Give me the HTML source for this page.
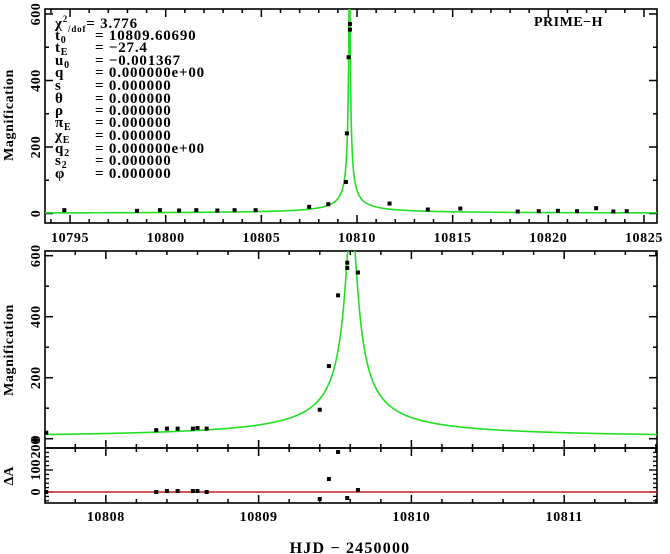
<!DOCTYPE html>
<html><head><meta charset="utf-8"><style>
html,body{margin:0;padding:0;background:#fff}
svg{display:block}
text{font-family:"Liberation Serif",serif;font-weight:bold;fill:#000}
</style></head><body>
<svg id="s" width="670" height="554" viewBox="0 0 670 554" xmlns="http://www.w3.org/2000/svg">
<defs>
<clipPath id="c1"><rect x="45" y="9" width="612" height="214"/></clipPath>
<clipPath id="c2"><rect x="45" y="251" width="612" height="197"/></clipPath>
<clipPath id="c3"><rect x="45" y="448" width="612" height="55"/></clipPath>
</defs>
<g id="g"></g>
<g font-size="15" letter-spacing="0.8">
<text x="55" y="28">χ<tspan font-size="9" dy="-6">2</tspan><tspan font-size="9" dy="10">/dof</tspan><tspan dy="-4">= 3.776</tspan></text>
<text x="55" y="40">t<tspan font-size="10" dy="3">0</tspan><tspan x="95" dy="-3">= 10809.60690</tspan></text>
<text x="55" y="52">t<tspan font-size="10" dy="3">E</tspan><tspan x="95" dy="-3">= −27.4</tspan></text>
<text x="55" y="65">u<tspan font-size="10" dy="3">0</tspan><tspan x="95" dy="-3">= −0.001367</tspan></text>
<text x="55" y="77">q<tspan x="95">= 0.000000e+00</tspan></text>
<text x="55" y="90">s<tspan x="95">= 0.000000</tspan></text>
<text x="55" y="103">θ<tspan x="95">= 0.000000</tspan></text>
<text x="55" y="115">ρ<tspan x="95">= 0.000000</tspan></text>
<text x="55" y="127">π<tspan font-size="10" dy="3">E</tspan><tspan x="95" dy="-3">= 0.000000</tspan></text>
<text x="55" y="140">χ<tspan font-size="10" dy="3">E</tspan><tspan x="95" dy="-3">= 0.000000</tspan></text>
<text x="55" y="153">q<tspan font-size="10" dy="3">2</tspan><tspan x="95" dy="-3">= 0.000000e+00</tspan></text>
<text x="55" y="165">s<tspan font-size="10" dy="3">2</tspan><tspan x="95" dy="-3">= 0.000000</tspan></text>
<text x="55" y="178">φ<tspan x="95">= 0.000000</tspan></text>
</g>
<text x="534" y="26" font-size="14" letter-spacing="0.5">PRIME−H</text>
<text x="350" y="553" font-size="16" letter-spacing="1.2" text-anchor="middle">HJD − 2450000</text>
<text transform="translate(13,115) rotate(-90)" font-size="14" letter-spacing="0.6" text-anchor="middle">Magnification</text>
<text transform="translate(13,350) rotate(-90)" font-size="14" letter-spacing="0.6" text-anchor="middle">Magnification</text>
<text transform="translate(13,476) rotate(-90)" font-size="14" text-anchor="middle">ΔA</text>
</svg>
<script>
var g=document.getElementById('g'),out='';
var t0=10809.6069,tE=27.4,u0=0.001367;
function A(t){var tau=(t-t0)/tE,u=Math.sqrt(u0*u0+tau*tau);return (u*u+2)/(u*Math.sqrt(u*u+4));}
function panel(P){
 var X=function(v){return P.x0+(v-P.d0)*P.sx;},Y=function(v){return P.y0-v*P.sy;};
 out+='<rect x="45" y="'+P.top+'" width="612" height="'+(P.bot-P.top)+'" fill="none" stroke="#000" stroke-width="1.6"/>';
 for(var d=Math.ceil(P.dmin/P.minor)*P.minor;d<=P.dmax+1e-9;d+=P.minor){
  var x=X(d);if(x<45||x>657)continue;
  var maj=Math.abs(d/P.major-Math.round(d/P.major))<1e-6,L=maj?8:4;
  out+='<line x1="'+x+'" y1="'+P.bot+'" x2="'+x+'" y2="'+(P.bot-L)+'" stroke="#000" stroke-width="1.5"/>';
  out+='<line x1="'+x+'" y1="'+P.top+'" x2="'+x+'" y2="'+(P.top+L)+'" stroke="#000" stroke-width="1.5"/>';
  if(maj&&P.lab)out+='<text x="'+x+'" y="'+P.laby+'" font-size="14" letter-spacing="0.6" text-anchor="middle">'+Math.round(d)+'</text>';
 }
 P.yt.forEach(function(v){var y=Y(v[0]);if(y<P.top-0.5||y>P.bot+0.5)return;var L=v[1]?8:4;
  out+='<line x1="45" y1="'+y+'" x2="'+(45+L)+'" y2="'+y+'" stroke="#000" stroke-width="1.5"/>';
  out+='<line x1="657" y1="'+y+'" x2="'+(657-L)+'" y2="'+y+'" stroke="#000" stroke-width="1.5"/>';
  if(v[2]!==undefined)out+='<text transform="translate(40,'+y+') rotate(-90)" font-size="14" letter-spacing="0.6" text-anchor="middle">'+v[2]+'</text>';
 });
 return [X,Y];
}
function yt(step,max,lab){var a=[];for(var v=0;v<=max;v+=step/2){var m=v%step==0;a.push(m?[v,1,lab?String(v):undefined]:[v,0]);}return a;}
var P1={x0:45,d0:10793.69,sx:19.13,y0:213.5,sy:66.5/200,top:9,bot:223,dmin:10793,dmax:10826,minor:1,major:5,lab:1,laby:242,yt:yt(200,600,1)};
var f=panel(P1),X=f[0],Y=f[1];
var p='';for(var x=45;x<=657;x+=0.25){var t=P1.d0+(x-45)/P1.sx;p+=(p?'L':'M')+x.toFixed(2)+','+Y(A(t)).toFixed(2);}
out+='<path d="'+p+'" fill="none" stroke="#22e022" stroke-width="1.6" clip-path="url(#c1)"/>';
var pts1=[[10794.7,10],[10798.5,8],[10799.7,10],[10800.7,9],[10801.6,10],[10802.7,9],[10803.6,10],[10804.7,10],[10807.5,20],[10808.5,28],[10809.42,95],[10809.47,241],[10809.56,470],[10809.63,553],[10809.63,570],[10811.7,30],[10813.7,12],[10815.4,15],[10818.4,6],[10819.5,7],[10820.5,8],[10821.5,7],[10822.5,16],[10823.4,6],[10824.1,7]];
pts1.forEach(function(q){out+='<rect x="'+(X(q[0])-2)+'" y="'+(Y(q[1])-2)+'" width="4" height="4" fill="#000"/>';});
var P2={x0:45,d0:10807.602,sx:152.8,y0:438.7,sy:61/200,top:251,bot:448,dmin:10807.4,dmax:10811.8,minor:0.2,major:1,lab:0,yt:yt(200,600,1)};
f=panel(P2);X=f[0];Y=f[1];
p='';for(var x=45;x<=657;x+=0.25){var t=P2.d0+(x-45)/P2.sx;p+=(p?'L':'M')+x.toFixed(2)+','+Math.max(Y(A(t)),200).toFixed(2);}
out+='<path d="'+p+'" fill="none" stroke="#22e022" stroke-width="1.6" clip-path="url(#c2)"/>';
var pts2=[[10807.61,20],[10808.33,28],[10808.40,33],[10808.47,33],[10808.57,33],[10808.60,35],[10808.66,33],[10809.40,95],[10809.46,238],[10809.52,470],[10809.58,560],[10809.58,577],[10809.65,545]];
pts2.forEach(function(q){out+='<rect x="'+(X(q[0])-2)+'" y="'+(Y(q[1])-2)+'" width="4" height="4" fill="#000"/>';});
var P3={x0:45,d0:10807.602,sx:152.8,y0:492,sy:44/200,top:448,bot:503,dmin:10807.4,dmax:10811.8,minor:0.2,major:1,lab:1,laby:521,yt:[]};
f=panel(P3);X=f[0];
for(var v=-40;v<=200;v+=20){var y=492-v*0.22;if(y<448||y>503)continue;var L=(v%100==0)?8:4;
 out+='<line x1="45" y1="'+y+'" x2="'+(45+L)+'" y2="'+y+'" stroke="#000" stroke-width="1.3"/><line x1="657" y1="'+y+'" x2="'+(657-L)+'" y2="'+y+'" stroke="#000" stroke-width="1.3"/>';}
out+='<text transform="translate(40,492) rotate(-90)" font-size="14" text-anchor="middle">0</text>';
out+='<text transform="translate(40,470) rotate(-90)" font-size="14" text-anchor="middle">100</text>';
out+='<text transform="translate(40,448) rotate(-90)" font-size="14" text-anchor="middle">200</text>';
out+='<line x1="45" y1="492" x2="657" y2="492" stroke="#c02020" stroke-width="1.6"/>';
var pts3=[[10807.61,492],[10808.33,492],[10808.40,491],[10808.47,491],[10808.57,491],[10808.60,491],[10808.66,492],[10809.40,499],[10809.46,479],[10809.52,452],[10809.58,498],[10809.65,490]];
pts3.forEach(function(q){out+='<rect x="'+(X(q[0])-2)+'" y="'+(q[1]-2)+'" width="4" height="4" fill="#000"/>';});
g.innerHTML=out;
</script>
</body></html>
